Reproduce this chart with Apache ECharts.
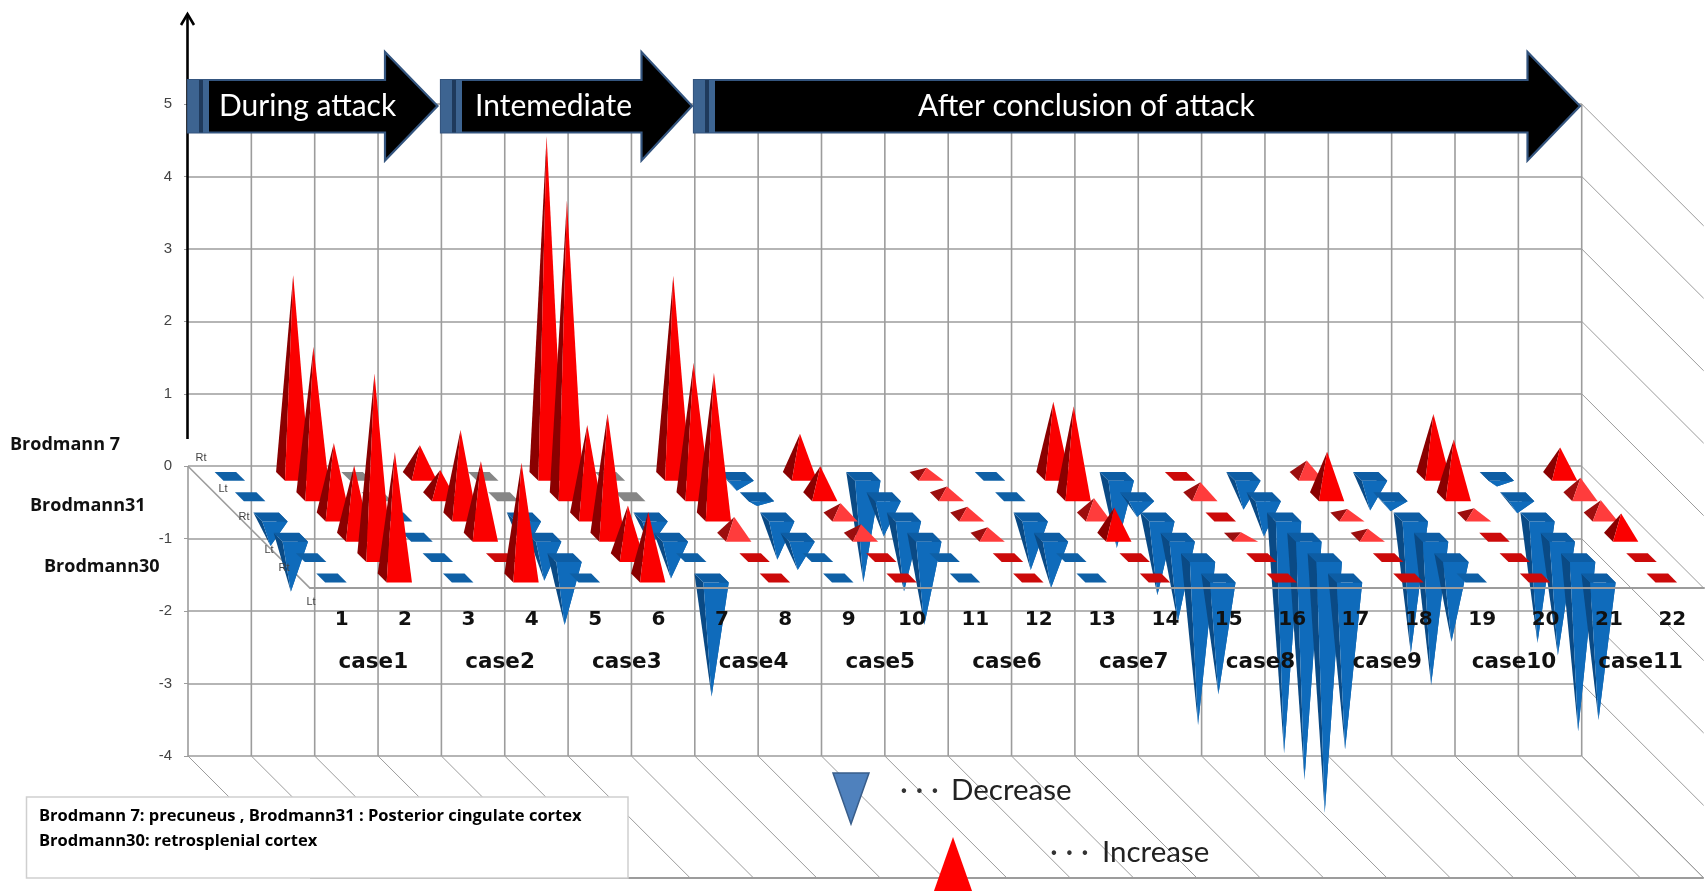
<!DOCTYPE html>
<html>
<head>
<meta charset="utf-8">
<title>Brodmann area changes by case</title>
<script src="https://cdn.jsdelivr.net/npm/echarts@6/dist/echarts.min.js"></script>
<style>html,body{margin:0;padding:0;background:#fff}#chart{width:1708px;height:891px}</style>
</head>
<body>
<div id="chart"></div>
<script>
// Column and case labels along the front edge of the floor
const scanLabels = ['1','2','3','4','5','6','7','8','9','10','11','12','13','14','15','16','17','18','19','20','21','22'];
const caseLabels = ['case1','case2','case3','case4','case5','case6','case7','case8','case9','case10','case11'];
const valueTicks = [-4,-3,-2,-1,0,1,2,3,4,5];

// Change per scan for each region and side; 0 = no change, ±0.01 = barely any change
const rtBA7  = [-0.01,2.78,0,0.43,0,4.70,0,2.77,-0.20,0.59,-1.46,0.12,-0.01,1.03,-0.99,0.01,-0.46,0.22,-0.47,0.86,-0.14,0.40];
const ltBA7  = [-0.01,2.07,0,0.37,0,4.09,0,1.85,-0.13,0.42,-0.55,0.14,-0.01,1.25,-0.28,0.20,-0.55,0.62,-0.20,0.79,-0.23,0.26];
const rtBA31 = [-0.40,1.02,-0.01,1.20,-0.50,1.27,-0.40,1.99,-0.59,0.19,-1.03,0.14,-0.73,0.26,-1.08,0.01,-3.26,0.11,-1.88,0.12,-1.74,0.23];
const ltBA31 = [-0.75,0.99,-0.01,1.05,-0.60,1.71,-0.57,0.28,-0.45,0.18,-1.21,0.14,-0.70,0.41,-1.17,0.07,-3.35,0.12,-2.04,0.01,-1.63,0.33];
const rtBA30 = [-0.01,2.54,-0.01,0.01,-0.93,0.72,-0.01,0.01,-0.01,0.01,-0.01,0.01,-0.01,0.01,-2.31,0.01,-3.52,0.01,-1.16,0.01,-2.40,0.01];
const ltBA30 = [-0.01,1.74,-0.01,1.59,-0.01,0.91,-1.64,0.01,-0.01,0.01,-0.01,0.01,-0.01,0.01,-1.61,0.01,-2.37,0.01,-0.01,0.01,-1.96,0.01];
const rows = [rtBA7, ltBA7, rtBA31, ltBA31, rtBA30, ltBA30];
const rowSides = ['Rt','Lt','Rt','Lt','Rt','Lt'];

// Oblique projection: one floor row shifts by these many columns / value units
const ROW_DX = 0.3209;
const ROW_DY = 0.2804;
const ROW_COUNT = rows.length;
const COL_COUNT = scanLabels.length;

// Cone footprint, in columns and rows
const HALF_W = 0.2;
const HALF_W_FLAT = 0.17;
const HALF_D = 0.22;

// Cells are painted back row first, left to right, so nearer cones overlap
const cells = [];
rows.forEach((vals, r) => vals.forEach((v, c) => cells.push([c, r, v])));

function renderCone(params, api) {
  const c = api.value(0), r = api.value(1), v = api.value(2);
  const flat = Math.abs(v) < 0.05;
  const hw = flat ? HALF_W_FLAT : HALF_W;
  const at = (dc, dr, val) => api.coord([
    c + 0.5 + dc + (r + 0.5 + dr) * ROW_DX,
    val - (r + 0.5 + dr) * ROW_DY
  ]);
  const BL = at(-hw, -HALF_D, 0), BR = at(hw, -HALF_D, 0);
  const FL = at(-hw, HALF_D, 0), FR = at(hw, HALF_D, 0);
  const apex = at(0, 0, v);
  const poly = (points, fill) => ({ type: 'polygon', shape: { points }, style: { fill }, silent: true });

  if (flat) {
    const fill = v === 0 ? '#868686' : v > 0 ? '#cc0a0a' : '#0f60a6';
    return { type: 'group', children: [poly([BL, BR, FR, FL], fill)] };
  }
  if (v > 0) {
    const small = v < 0.3;
    return { type: 'group', children: [
      poly([BL, FL, apex], small ? '#9c0e0e' : '#8a0000'),
      poly([FL, FR, apex], small ? '#ff3c3c' : '#fb0000')
    ] };
  }
  return { type: 'group', children: [
    poly([BL, FL, apex], '#0a4a85'),
    poly([BR, FR, apex], '#0b5ea6'),
    poly([FL, FR, apex], '#0f6bbb'),
    poly([BL, BR, FR, FL], '#0d5da4')
  ] };
}

// Back wall verticals plus the diagonals of the floor and side planes
function renderFrame(params, api) {
  const children = [];
  const seg = (a, b, w) => children.push({
    type: 'line', silent: true,
    shape: { x1: a[0], y1: a[1], x2: b[0], y2: b[1] },
    style: { stroke: '#9c9c9c', lineWidth: w }
  });
  const dx = ROW_COUNT * ROW_DX, dy = ROW_COUNT * ROW_DY;
  const lo = valueTicks[0], hi = valueTicks[valueTicks.length - 1];
  for (let col = 0; col <= COL_COUNT; col++) {
    seg(api.coord([col, col === 0 ? 0 : hi]), api.coord([col, lo]), 1.6);
    seg(api.coord([col, lo]), api.coord([col + dx, lo - dy]), 1);
  }
  valueTicks.forEach(t => seg(api.coord([COL_COUNT, t]), api.coord([COL_COUNT + dx, t - dy]), 1));
  seg(api.coord([dx, lo - dy]), api.coord([COL_COUNT + dx, lo - dy]), 2);
  seg(api.coord([0, 0]), api.coord([dx, -dy]), 1.6);
  return { type: 'group', children };
}

// Annotation layer: phase arrows, region names, legend
const Z = 100;
function phaseArrow(x0, headX, tipX, label, textX) {
  const top = 80, bot = 132.5, mid = 106, hTop = 52, hBot = 160.5;
  return [
    { type: 'polygon', z: Z, shape: { points: [[x0, top], [headX, top], [headX, hTop], [tipX, mid], [headX, hBot], [headX, bot], [x0, bot]] },
      style: { fill: '#000', stroke: '#34557f', lineWidth: 2.2 } },
    { type: 'rect', z: Z + 1, shape: { x: x0, y: top, width: 21, height: bot - top }, style: { fill: '#3d6491' } },
    { type: 'rect', z: Z + 2, shape: { x: x0 + 11, y: top, width: 4, height: bot - top }, style: { fill: '#1f3a5c' } },
    { type: 'text', z: Z + 2, style: { x: textX, y: mid, text: label, fill: '#fff', font: '30px Lato', textAlign: 'left', textVerticalAlign: 'middle' } }
  ];
}
function note(x, y, text, font, fill, align) {
  return { type: 'text', z: Z + 2, style: { x, y, text, font, fill: fill || '#000', textAlign: align || 'left', textVerticalAlign: 'middle' } };
}
const annotations = [
  { type: 'line', z: Z, shape: { x1: 187.5, y1: 439, x2: 187.5, y2: 15 }, style: { stroke: '#000', lineWidth: 2.6 } },
  { type: 'polyline', z: Z, shape: { points: [[181, 25], [187.5, 14], [194, 25]] }, style: { stroke: '#000', fill: 'none', lineWidth: 2.6 } },
  ...phaseArrow(188, 385, 437.5, 'During attack', 219),
  ...phaseArrow(441, 641.5, 692, 'Intemediate', 475),
  ...phaseArrow(694, 1527.5, 1580, 'After conclusion of attack', 918),
  note(10, 445, 'Brodmann 7', 'bold 18px "Open Sans"', '#111'),
  note(30, 506, 'Brodmann31', 'bold 18px "Open Sans"', '#111'),
  note(44, 567, 'Brodmann30', 'bold 18px "Open Sans"', '#111'),
  ...rowSides.map((s, i) => note([201, 223, 244, 269, 284, 311][i], [458, 489, 517, 550, 568, 602][i], s, '11px "Liberation Sans"', '#444', 'center')),
  { type: 'rect', z: Z, shape: { x: 26.5, y: 797, width: 601.5, height: 81 }, style: { fill: '#fff', stroke: '#cfcfcf', lineWidth: 1.5 } },
  note(39, 816, 'Brodmann 7: precuneus , Brodmann31 : Posterior cingulate cortex', 'bold 16.5px "Open Sans"'),
  note(39, 841, 'Brodmann30: retrosplenial cortex', 'bold 16.5px "Open Sans"'),
  { type: 'polygon', z: Z, shape: { points: [[833, 773], [869, 773], [851, 824]] }, style: { fill: '#4f81bd', stroke: '#385d8a', lineWidth: 1.5 } },
  note(900, 790, '· · ·', '30px Lato', '#333'),
  note(951, 790, 'Decrease', '29.5px Lato', '#222'),
  { type: 'polygon', z: Z, shape: { points: [[953, 837], [977, 905], [929, 905]] }, style: { fill: '#ff0000' } },
  note(1050, 852, '· · ·', '30px Lato', '#333'),
  note(1102, 852, 'Increase', '29.5px Lato', '#222')
];

const chart = echarts.init(document.getElementById('chart'), null, { renderer: 'canvas' });
chart.setOption({
  animation: false,
  backgroundColor: '#fff',
  grid: [
    { left: 188, top: 104, width: 1393.7, height: 652 },
    { left: 310, top: 587, width: 1394, height: 1 }
  ],
  xAxis: [
    { gridIndex: 0, type: 'value', min: 0, max: COL_COUNT, show: false },
    { gridIndex: 1, type: 'category', data: scanLabels, position: 'bottom', z: 10,
      axisLine: { lineStyle: { color: '#9c9c9c', width: 2 } },
      axisTick: { length: 42, lineStyle: { color: '#9c9c9c', width: 1.6 } },
      axisLabel: { interval: 0, margin: 22, color: '#111', fontFamily: 'DejaVu Sans', fontWeight: 'bold', fontSize: 20 } },
    { gridIndex: 1, type: 'category', data: caseLabels, position: 'bottom', z: 10,
      axisLine: { show: false },
      axisTick: { length: 85, lineStyle: { color: '#9c9c9c', width: 1.6 } },
      axisLabel: { interval: 0, margin: 63, color: '#111', fontFamily: 'DejaVu Sans', fontWeight: 'bold', fontSize: 21.5 } }
  ],
  yAxis: [
    { gridIndex: 0, type: 'value', min: -4, max: 5, interval: 1,
      axisLine: { show: false },
      axisTick: { show: true, length: 4, lineStyle: { color: '#9c9c9c' } },
      axisLabel: { margin: 16, color: '#444', fontFamily: 'Liberation Sans', fontSize: 15 },
      splitLine: { show: true, lineStyle: { color: '#9c9c9c', width: 1.6 } } },
    { gridIndex: 1, type: 'value', min: 0, max: 1, show: false }
  ],
  series: [
    { type: 'custom', name: 'frame', xAxisIndex: 0, yAxisIndex: 0, z: 1, silent: true, clip: false,
      renderItem: renderFrame, data: [[0, 0]] },
    { type: 'custom', name: 'change', xAxisIndex: 0, yAxisIndex: 0, z: 3, silent: true, clip: false,
      renderItem: renderCone, data: cells }
  ],
  graphic: { elements: annotations }
});
</script>
</body>
</html>
